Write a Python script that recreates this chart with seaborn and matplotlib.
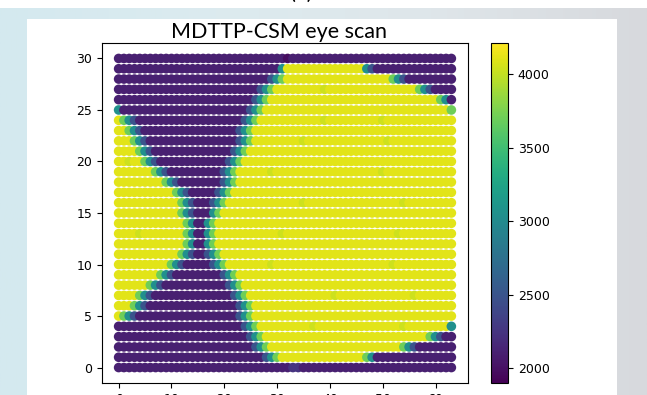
import re
import numpy as np
import pandas as pd
import matplotlib
matplotlib.use("Agg")
import matplotlib.pyplot as plt
import seaborn as sns
from matplotlib.patches import Rectangle
from matplotlib.colors import Normalize, LinearSegmentedColormap
from matplotlib.cm import ScalarMappable

# ---------------- data ----------------
title = "MDTTP-CSM eye scan"
panel_label = "(c)"
x_ticks = [0, 10, 20, 30, 40, 50, 60]
y_ticks = [0, 5, 10, 15, 20, 25, 30]
cbar_ticks = [2000, 2500, 3000, 3500, 4000]
value_range = (1900, 4210)
n_cols = 64

# colour level of each dot class (approximate counter values)
level_values = {"Y": 4110, "y": 4030, "g": 3700, "t": 3050,
                "b": 2500, "p": 2250, "P": 2100, "D": 1980}

# run-length encoded rows (x = 0..63), letter + run length
rows_rle = {
    30: "P32 D P31",
    29: "P31 t Y15 t b P15",
    28: "P29 b t g Y20 g t b P9",
    27: "P27 b t g Y9 y Y17 g t b P4",
    26: "P26 b t g Y32 g t P",
    25: "t P24 b t g Y35 g",
    24: "Y g t b P20 b t g Y12 y Y10 y Y13",
    23: "Y2 g t b P18 b t g Y38",
    22: "Y3 g t b P17 b t g Y9 y Y15 y Y12",
    21: "Y4 g t b P15 b t g Y39",
    20: "Y2 y Y2 g t b P13 b t g Y40",
    19: "Y7 g t b P10 b t g Y6 y Y20 y Y13",
    18: "Y9 g t b P8 b t g Y41",
    17: "Y11 g t b P5 b t g Y42",
    16: "Y12 g t b P3 b t g Y14 y Y18 y Y9",
    15: "Y12 g t b P3 t g Y44",
    14: "Y13 g t P2 t g Y45",
    13: "Y4 y Y8 g t P2 t g Y12 y Y21 y Y10",
    12: "Y13 g t P2 t g Y45",
    11: "Y12 g t b P2 b t g Y44",
    10: "Y10 g t b P5 b t g Y8 y Y22 y Y11",
    9: "Y8 g t b P9 b t g Y41",
    8: "Y6 g t b P12 b t g Y40",
    7: "Y4 g t b P15 b t g Y16 y Y14 y Y7",
    6: "Y3 g t b P17 b t g Y38",
    5: "Y g t b P19 b t g Y38",
    4: "P24 b t g Y10 y Y16 y Y8 t",
    3: "P25 b t g Y31 g t b P2",
    2: "P26 b t g Y25 g t b P7",
    1: "P28 b t g Y16 g t P15",
    0: "P33 p2 P29",
}


def expand(rle):
    out = []
    for tok in rle.split():
        m = re.fullmatch(r"([A-Za-z])(\d*)", tok)
        out += [m.group(1)] * int(m.group(2) or 1)
    assert len(out) == n_cols, (rle, len(out))
    return out


records = []
for yv in sorted(rows_rle):
    for xv, ch in enumerate(expand(rows_rle[yv])):
        records.append((xv, yv, level_values[ch]))
df = pd.DataFrame(records, columns=["x", "y", "v"])

# ---------------- figure ----------------
W, H = 647, 395
fig = plt.figure(figsize=(W / 100, H / 100), dpi=100)

# slide-like background: gradient strip + white panel
bg = fig.add_axes([0, 0, 1, 1], zorder=-5)
bg.set_axis_off()
grad = LinearSegmentedColormap.from_list(
    "bg", ["#d4e9ef", "#dcebef", "#dfe6ea", "#d7d9dd"])
bg.imshow(np.linspace(0, 1, 256)[None, :], cmap=grad, aspect="auto",
          extent=[0, 1, 0, 1], transform=bg.transAxes)
bg.add_patch(Rectangle((0, 1 - 8 / H), 1, 8 / H, transform=bg.transAxes,
                       facecolor="white", edgecolor="none"))
bg.add_patch(Rectangle((27 / W, 0), (617 - 27) / W, 1 - 19 / H,
                       transform=bg.transAxes, facecolor="white",
                       edgecolor="none"))
bg.set_xlim(0, 1)
bg.set_ylim(0, 1)

ax = fig.add_axes([102 / W, 12 / H, 366 / W, 340 / H])
sns.scatterplot(data=df, x="x", y="y", hue="v", palette="viridis",
                hue_norm=value_range, s=48, edgecolor="none",
                linewidth=0, legend=False, ax=ax)
ax.set_xlabel("")
ax.set_ylabel("")
ax.set_xticks(x_ticks)
ax.set_yticks(y_ticks)
ax.tick_params(labelsize=9, length=3.5, width=0.8)
for sp in ax.spines.values():
    sp.set_linewidth(0.8)

cax = fig.add_axes([491 / W, 12 / H, 17 / W, 340 / H])
sm = ScalarMappable(norm=Normalize(*value_range), cmap="viridis")
cb = fig.colorbar(sm, cax=cax, ticks=cbar_ticks)
cb.ax.tick_params(labelsize=9, length=3.5, width=0.8)
cb.outline.set_linewidth(0.8)

fig.text(279 / W, 1 - 38 / H, title, ha="center", va="baseline",
         fontsize=15.5, family="Lato", color="black")
fig.text(301 / W, 1 + 1 / H, panel_label, ha="center", va="baseline",
         fontsize=16, family="Lato", color="black")

fig.savefig("out.png", dpi=100)
